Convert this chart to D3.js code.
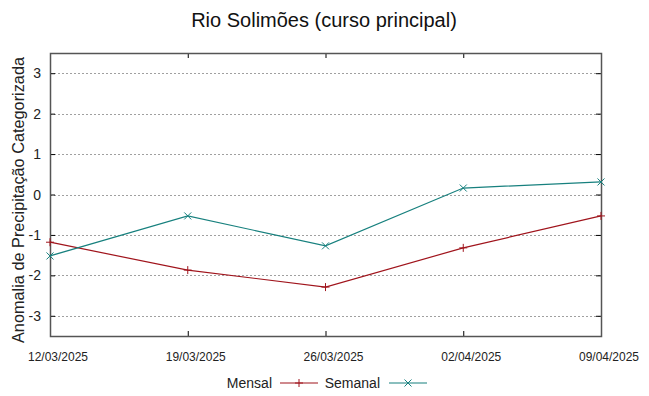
<!DOCTYPE html>
<html>
<head>
<meta charset="utf-8">
<script src="https://cdn.jsdelivr.net/npm/d3@7"></script>
<style>
  body { margin: 0; background: white; }
  text { font-family: "Liberation Sans", Arial, sans-serif; fill: #222; }
</style>
</head>
<body>
<div id="chart"></div>
<script>
// Data
const dates = ['12/03/2025', '19/03/2025', '26/03/2025', '02/04/2025', '09/04/2025'];
const mensal = [-1.18, -1.87, -2.29, -1.32, -0.53];
const semanal = [-1.52, -0.53, -1.27, 0.16, 0.31];
const yTicks = [-3, -2, -1, 0, 1, 2, 3];

const width = 649, height = 396;
const margin = { top: 53, right: 48, bottom: 60, left: 50 };

const svg = d3.select('#chart').append('svg')
    .attr('width', width)
    .attr('height', height);

const x = d3.scalePoint().domain(dates).range([margin.left, width - margin.right]);
const y = d3.scaleLinear().domain([-3.5, 3.5]).range([height - margin.bottom, margin.top]);

// Grid lines
svg.append('g').selectAll('line')
    .data(yTicks)
    .enter().append('line')
    .attr('x1', margin.left).attr('x2', width - margin.right)
    .attr('y1', d => Math.round(y(d)) + 0.5).attr('y2', d => Math.round(y(d)) + 0.5)
    .attr('stroke', '#a0a0a0')
    .attr('stroke-width', 1)
    .attr('stroke-dasharray', '2,2');

// Left axis (ticks inward) with labels
const yAxis = svg.append('g')
    .attr('transform', `translate(${margin.left},0)`)
    .call(d3.axisRight(y).tickValues(yTicks).tickSize(5).tickFormat(''));
yAxis.select('.domain').remove();
yAxis.selectAll('line').attr('stroke', '#000');

svg.append('g').selectAll('text')
    .data(yTicks)
    .enter().append('text')
    .attr('x', margin.left - 9)
    .attr('y', d => y(d))
    .attr('dy', '0.36em')
    .attr('text-anchor', 'end')
    .style('font-size', '14px')
    .text(d => d);

// Right axis mirror ticks
const yAxisR = svg.append('g')
    .attr('transform', `translate(${width - margin.right},0)`)
    .call(d3.axisLeft(y).tickValues(yTicks).tickSize(5).tickFormat(''));
yAxisR.select('.domain').remove();
yAxisR.selectAll('line').attr('stroke', '#000');

// Bottom axis (ticks inward)
const xAxis = svg.append('g')
    .attr('transform', `translate(0,${height - margin.bottom})`)
    .call(d3.axisTop(x).tickSize(5).tickFormat(''));
xAxis.select('.domain').remove();
xAxis.selectAll('line').attr('stroke', '#000');

const xAxisT = svg.append('g')
    .attr('transform', `translate(0,${margin.top})`)
    .call(d3.axisBottom(x).tickSize(5).tickFormat(''));
xAxisT.select('.domain').remove();
xAxisT.selectAll('line').attr('stroke', '#000');

// date labels sit a bit right of their ticks, as in the original
svg.append('g').selectAll('text')
    .data(dates)
    .enter().append('text')
    .attr('x', d => x(d) + 8)
    .attr('y', height - margin.bottom + 25)
    .attr('text-anchor', 'middle')
    .attr('textLength', 60)
    .attr('lengthAdjust', 'spacingAndGlyphs')
    .style('font-size', '13px')
    .text(d => d);

// Frame
svg.append('rect')
    .attr('x', margin.left + 0.5)
    .attr('y', margin.top + 0.5)
    .attr('width', width - margin.left - margin.right)
    .attr('height', height - margin.top - margin.bottom)
    .attr('fill', 'none')
    .attr('stroke', '#555')
    .attr('stroke-width', 1.5);

// Series
const series = [
    { name: 'Mensal', values: mensal, color: '#a0141c', marker: 'plus' },
    { name: 'Semanal', values: semanal, color: '#17807e', marker: 'cross' }
];

const line = d3.line()
    .x((d, i) => x(dates[i]))
    .y(d => y(d));

const drawMarker = (g, type, cx, cy, color) => {
    const s = 4;
    if (type === 'plus') {
        g.append('path')
            .attr('d', `M${cx - s},${cy}H${cx + s}M${cx},${cy - s}V${cy + s}`)
            .attr('stroke', color).attr('stroke-width', 1).attr('fill', 'none');
    } else {
        g.append('path')
            .attr('d', `M${cx - s + 0.5},${cy - s + 0.5}L${cx + s - 0.5},${cy + s - 0.5}M${cx - s + 0.5},${cy + s - 0.5}L${cx + s - 0.5},${cy - s + 0.5}`)
            .attr('stroke', color).attr('stroke-width', 1).attr('fill', 'none');
    }
};

series.forEach(s => {
    const g = svg.append('g');
    g.append('path')
        .datum(s.values)
        .attr('d', line)
        .attr('fill', 'none')
        .attr('stroke', s.color)
        .attr('stroke-width', 1.2);
    s.values.forEach((v, i) => drawMarker(g, s.marker, x(dates[i]), y(v), s.color));
});

// Title
svg.append('text')
    .attr('x', 324)
    .attr('y', 27)
    .attr('text-anchor', 'middle')
    .style('font-size', '20px')
    .style('fill', '#111')
    .text('Rio Solimões (curso principal)');

// Y axis label
svg.append('text')
    .attr('transform', `translate(24,200) rotate(-90)`)
    .attr('text-anchor', 'middle')
    .style('font-size', '16.3px')
    .text('Anomalia de Precipitação Categorizada');

// Legend
const legend = svg.append('g');
const legendItems = [
    { s: series[0], textX: 272, lineX: 280 },
    { s: series[1], textX: 380, lineX: 389 }
];
legendItems.forEach(item => {
    legend.append('text')
        .attr('x', item.textX)
        .attr('y', 388)
        .attr('text-anchor', 'end')
        .style('font-size', '14px')
        .text(item.s.name);
    legend.append('line')
        .attr('x1', item.lineX).attr('x2', item.lineX + 38)
        .attr('y1', 383).attr('y2', 383)
        .attr('stroke', item.s.color).attr('stroke-width', 1.2);
    drawMarker(legend, item.s.marker, item.lineX + 19, 383, item.s.color);
});
</script>
</body>
</html>
